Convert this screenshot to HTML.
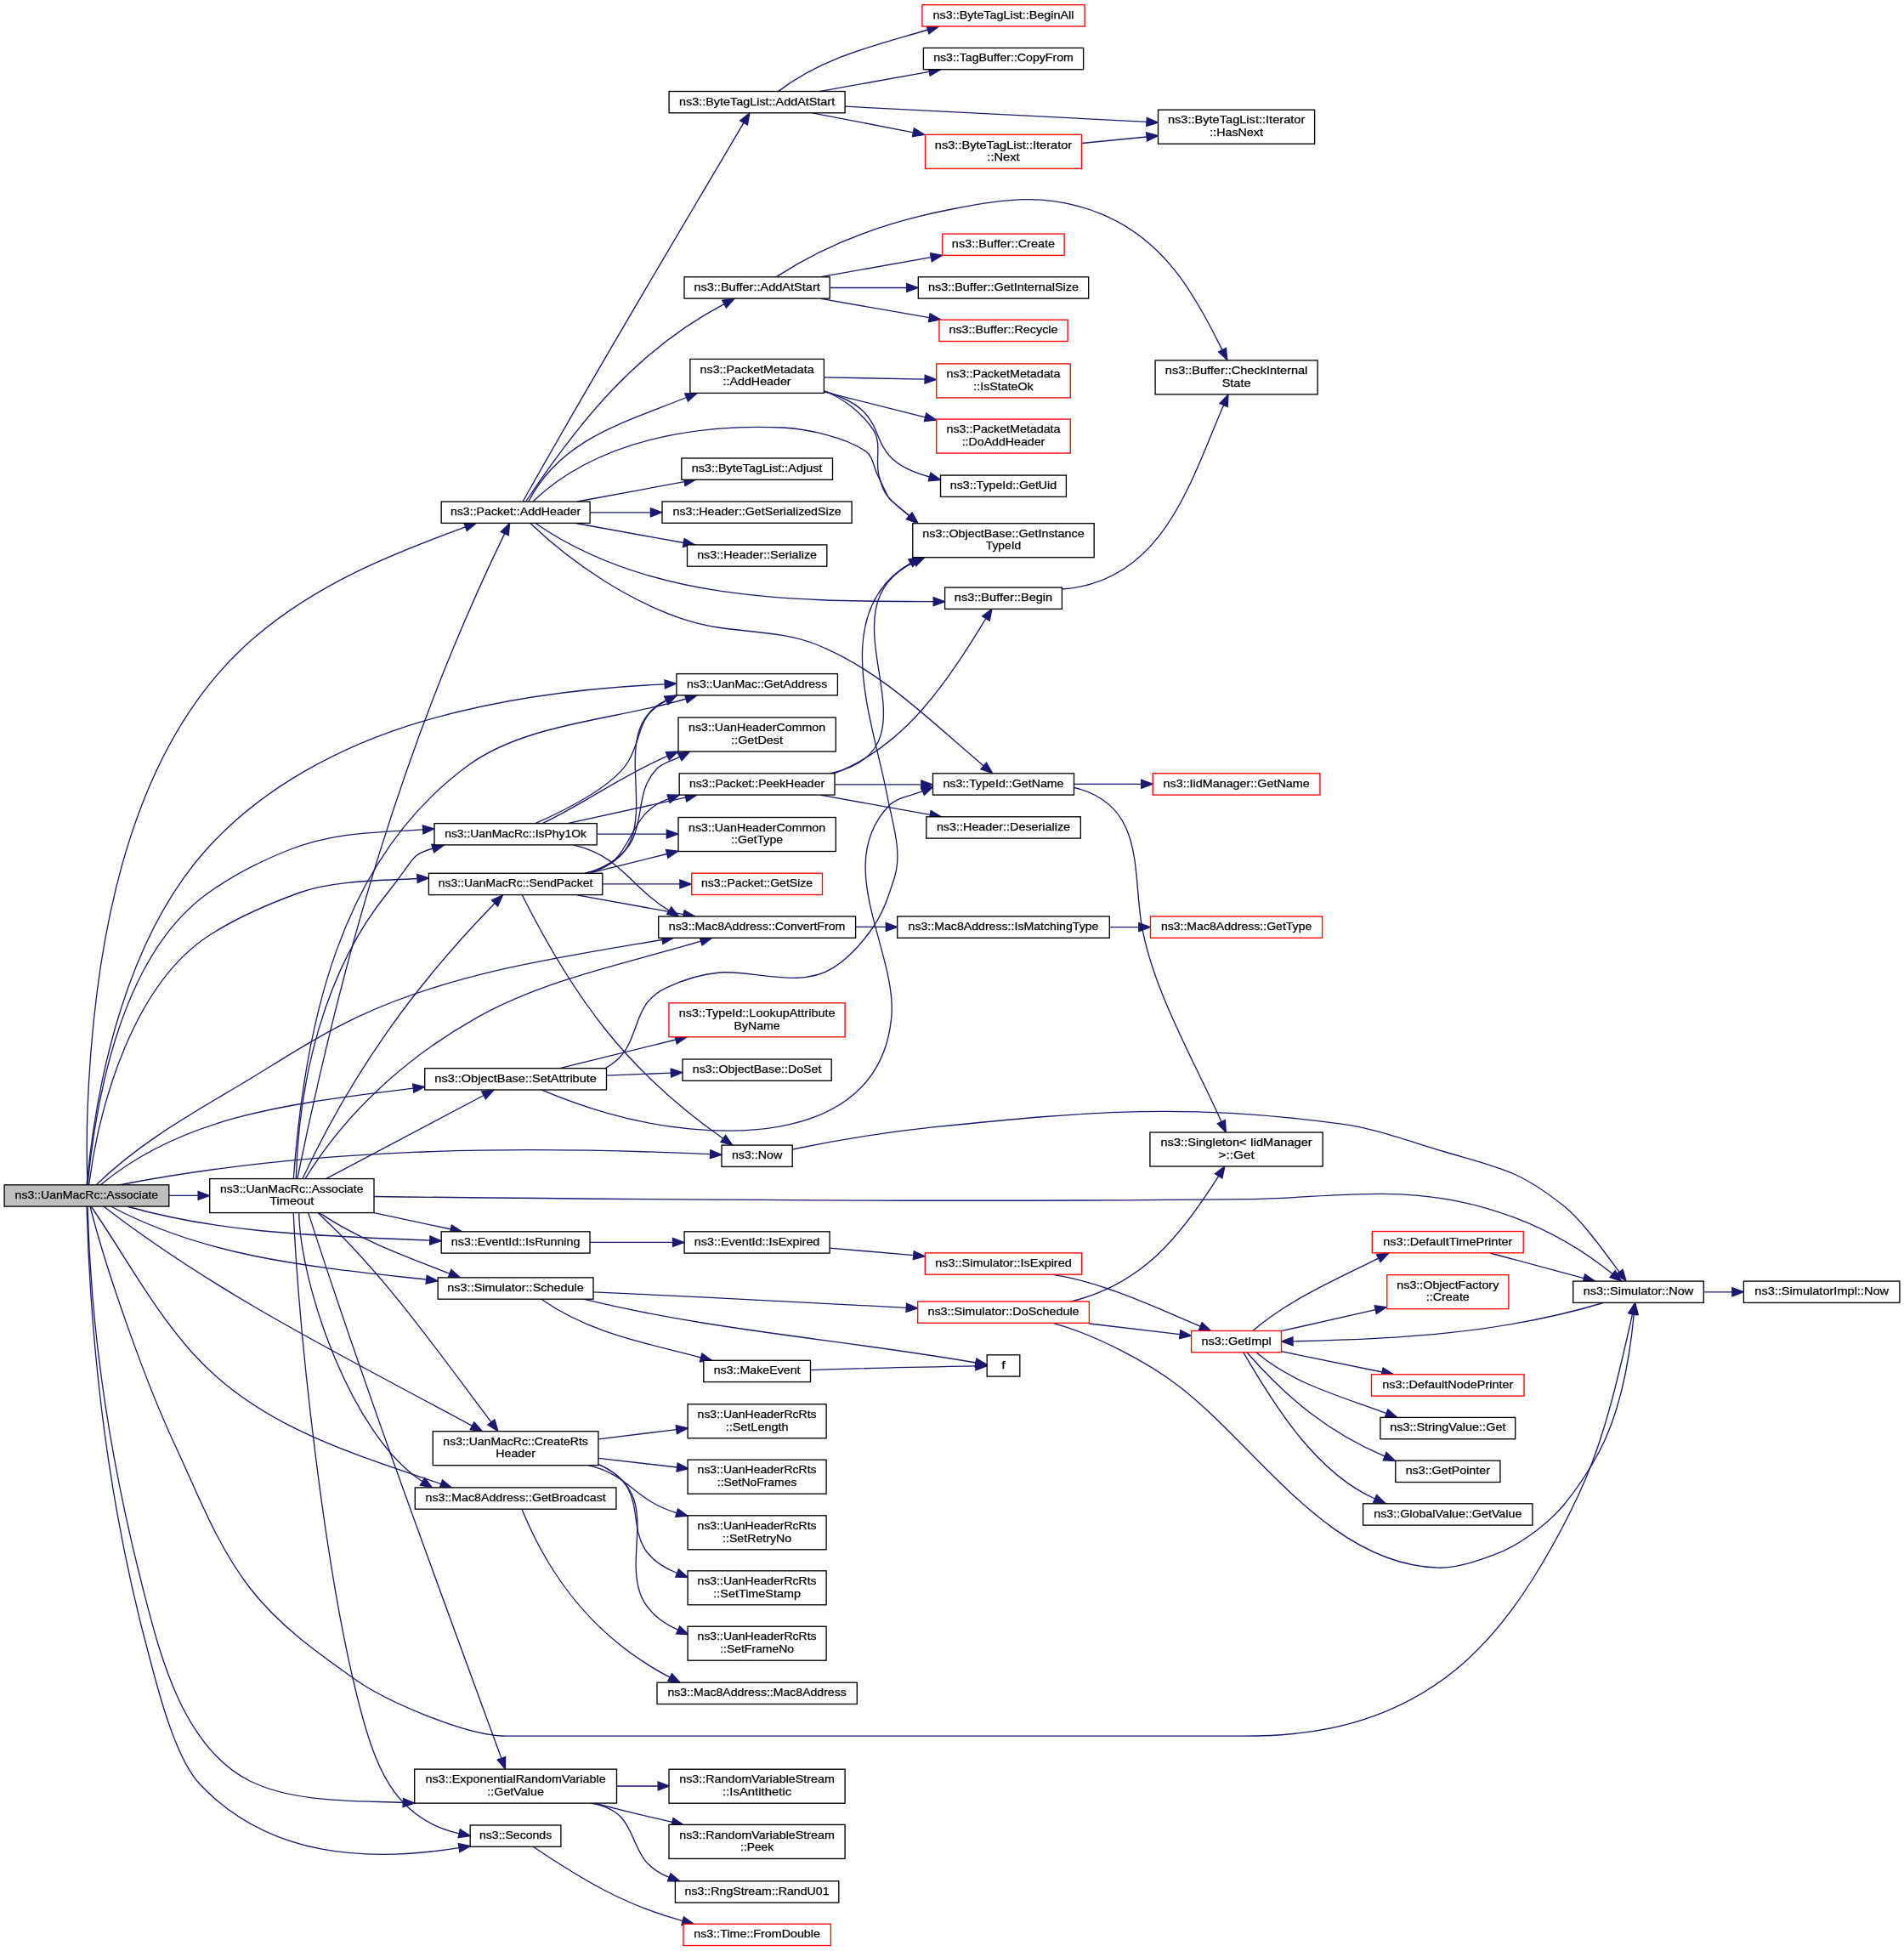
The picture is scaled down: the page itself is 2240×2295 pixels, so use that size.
<!DOCTYPE html>
<html><head><meta charset="utf-8"><style>
html,body{margin:0;padding:0;background:#fff;overflow:hidden;}
svg{display:block;will-change:transform;}
text{font-family:"Liberation Sans",sans-serif;font-size:13.4px;text-anchor:middle;fill:#000;stroke:#000;stroke-width:0.25px;}
.e{fill:none;stroke:#191970;stroke-width:1.33;}
.a{fill:#191970;stroke:#191970;stroke-width:1.33;}
</style></head><body>
<svg width="2240" height="2295" viewBox="0 0 2240 2295">
<rect width="2240" height="2295" fill="#fff"/>
<g>
<path class="e" d="M915.5,107.6 C968.5,66.8 1029.9,53.4 1091.6,35.0"/><path class="a" d="M1093.0,39.8 L1104.5,31.1 L1090.1,30.2 Z"/>
<path class="e" d="M963.8,107.6 L1093.3,84.3"/><path class="a" d="M1094.2,89.2 L1106.6,81.9 L1092.4,79.4 Z"/>
<path class="e" d="M994.1,125.2 L1349.0,143.4"/><path class="a" d="M1348.8,148.4 L1362.5,144.1 L1349.3,138.4 Z"/>
<path class="e" d="M955.4,132.8 L1074.4,155.8"/><path class="a" d="M1073.5,160.7 L1087.7,158.4 L1075.4,150.9 Z"/>
<path class="e" d="M1272.6,168.5 L1349.1,161.0"/><path class="a" d="M1349.6,166.0 L1362.5,159.7 L1348.6,156.0 Z"/>
<path class="e" d="M913.4,325.6 C975.8,284.7 1047.1,259.9 1120.0,246.0 C1183.4,233.9 1232.7,225.9 1296.0,251.9 C1369.7,282.2 1405.1,344.9 1437.9,411.6"/><path class="a" d="M1433.5,413.8 L1443.9,423.7 L1442.4,409.4 Z"/>
<path class="e" d="M965.9,325.6 L1095.4,302.7"/><path class="a" d="M1096.3,307.7 L1108.7,300.4 L1094.5,297.8 Z"/>
<path class="e" d="M976.2,338.5 L1066.7,338.5"/><path class="a" d="M1066.7,343.5 L1080.2,338.5 L1066.7,333.5 Z"/>
<path class="e" d="M965.9,351.3 L1093.3,373.7"/><path class="a" d="M1092.4,378.6 L1106.6,376.0 L1094.2,368.7 Z"/>
<path class="e" d="M1249.5,693.0 C1368.6,684.8 1400.7,565.8 1439.6,476.5"/><path class="a" d="M1444.2,478.5 L1445.0,464.1 L1435.0,474.5 Z"/>
<path class="e" d="M969.2,443.8 L1088.1,446.2"/><path class="a" d="M1088.0,451.2 L1101.6,446.5 L1088.2,441.2 Z"/>
<path class="e" d="M969.2,460.8 L1088.5,490.8"/><path class="a" d="M1087.3,495.7 L1101.6,494.1 L1089.7,486.0 Z"/>
<path class="e" d="M969.2,460.0 C1064.7,488.4 1000.9,535.1 1093.6,561.0"/><path class="a" d="M1092.3,565.8 L1106.6,564.6 L1094.9,556.2 Z"/>
<path class="e" d="M969.2,459.5 C992.3,468.8 1014.1,485.3 1027.7,506.2 C1037.3,520.9 1029.8,541.4 1033.8,558.5 C1040.4,586.9 1049.0,588.7 1069.8,606.8"/><path class="a" d="M1066.5,610.6 L1080.0,615.7 L1073.1,603.1 Z"/>
<path class="e" d="M615.1,590.0 C699.1,439.9 787.7,292.6 875.0,144.4"/><path class="a" d="M879.4,147.0 L881.9,132.8 L870.7,141.9 Z"/>
<path class="e" d="M618.5,590.0 C682.4,494.6 749.4,411.5 852.0,357.6"/><path class="a" d="M854.4,362.0 L864.0,351.3 L849.7,353.2 Z"/>
<path class="e" d="M621.8,590.0 C660.4,515.0 737.9,496.0 807.6,467.5"/><path class="a" d="M809.5,472.1 L820.1,462.4 L805.7,462.9 Z"/>
<path class="e" d="M626.9,590.0 C703.0,517.3 819.0,498.7 920.0,503.0 C949.9,504.3 995.2,514.7 1018.5,530.8 C1027.0,536.7 1027.7,549.3 1032.3,558.5 C1050.7,595.4 1038.3,579.3 1069.8,606.8"/><path class="a" d="M1066.5,610.6 L1080.0,615.7 L1073.1,603.1 Z"/>
<path class="e" d="M679.0,590.0 L805.2,566.7"/><path class="a" d="M806.1,571.6 L818.5,564.2 L804.3,561.7 Z"/>
<path class="e" d="M694.0,602.8 L765.4,602.8"/><path class="a" d="M765.4,607.8 L778.9,602.8 L765.4,597.8 Z"/>
<path class="e" d="M677.3,615.5 L804.3,638.5"/><path class="a" d="M803.4,643.4 L817.6,640.9 L805.2,633.6 Z"/>
<path class="e" d="M630.0,615.5 C765.4,709.2 940.0,707.0 1098.2,707.6"/><path class="a" d="M1098.2,712.6 L1111.7,707.7 L1098.2,702.6 Z"/>
<path class="e" d="M623.8,615.5 C675.1,664.2 741.5,708.6 809.7,730.2 C858.3,745.6 912.6,739.2 960.0,758.0 C1037.2,788.7 1094.8,848.7 1157.2,900.9"/><path class="a" d="M1154.0,904.8 L1167.6,909.6 L1160.5,897.1 Z"/>
<path class="e" d="M198.7,1406.4 L233.1,1406.4"/><path class="a" d="M233.1,1411.4 L246.6,1406.4 L233.1,1401.4 Z"/>
<path class="e" d="M103.0,1394.0 C101.8,1362.7 101.9,1331.3 103.2,1300.0 C110.9,1113.3 148.8,878.6 299.2,750.0 C372.8,687.0 457.9,652.7 547.6,619.9"/><path class="a" d="M549.3,624.6 L560.3,615.3 L545.9,615.2 Z"/>
<path class="e" d="M102.0,1394.0 C114.3,1262.8 151.0,1102.0 242.2,1000.0 C308.4,926.0 401.6,876.9 495.9,848.9 C589.1,821.2 685.4,809.3 782.2,804.8"/><path class="a" d="M782.4,809.8 L795.7,804.2 L782.0,799.8 Z"/>
<path class="e" d="M103.0,1394.0 C113.8,1283.3 145.7,1120.7 245.5,1050.0 C274.4,1029.5 306.4,1013.0 339.3,1000.0 C393.6,978.5 440.9,979.6 497.6,975.8"/><path class="a" d="M498.0,980.8 L511.1,974.9 L497.3,970.8 Z"/>
<path class="e" d="M104.6,1394.0 C116.9,1297.6 157.7,1157.2 246.6,1100.0 C279.4,1078.9 315.8,1063.3 352.5,1050.0 C392.2,1035.6 449.9,1035.7 490.9,1033.5"/><path class="a" d="M491.2,1038.5 L504.4,1032.8 L490.7,1028.5 Z"/>
<path class="e" d="M113.0,1394.0 C164.1,1344.2 222.3,1312.1 283.8,1275.3 C328.8,1248.4 372.6,1219.0 420.0,1196.6 C530.9,1144.2 659.1,1125.8 779.1,1105.5"/><path class="a" d="M779.9,1110.5 L792.4,1103.3 L778.3,1100.6 Z"/>
<path class="e" d="M118.0,1394.0 C221.3,1307.7 359.0,1296.8 486.2,1280.1"/><path class="a" d="M486.9,1285.1 L499.6,1278.4 L485.6,1275.2 Z"/>
<path class="e" d="M140.0,1394.0 C366.7,1349.8 605.5,1347.4 835.6,1357.7"/><path class="a" d="M835.4,1362.7 L849.1,1358.3 L835.8,1352.7 Z"/>
<path class="e" d="M149.2,1419.0 C265.3,1452.2 386.3,1453.8 505.8,1459.1"/><path class="a" d="M505.6,1464.1 L519.3,1459.7 L506.0,1454.1 Z"/>
<path class="e" d="M130.3,1419.0 C245.6,1480.7 374.9,1490.9 501.7,1505.2"/><path class="a" d="M501.1,1510.2 L515.1,1506.7 L502.2,1500.2 Z"/>
<path class="e" d="M121.8,1419.0 C256.2,1522.8 407.1,1596.9 555.5,1677.3"/><path class="a" d="M553.1,1681.7 L567.4,1683.7 L557.9,1672.9 Z"/>
<path class="e" d="M107.1,1419.0 C146.9,1476.7 180.0,1539.9 226.9,1592.0 C304.4,1678.1 413.4,1709.1 518.8,1745.6"/><path class="a" d="M517.2,1750.3 L531.6,1750.0 L520.5,1740.9 Z"/>
<path class="e" d="M103.0,1419.0 C106.8,1568.1 131.0,1723.8 168.0,1868.0 C187.4,1943.4 214.1,2055.0 294.0,2095.0 C345.6,2120.8 420.0,2118.0 474.3,2120.5"/><path class="a" d="M474.1,2125.5 L487.8,2121.1 L474.5,2115.5 Z"/>
<path class="e" d="M102.0,1419.0 C107.0,1597.9 129.3,1779.1 176.5,1952.0 C184.0,1979.5 204.8,2066.9 235.3,2099.0 C316.6,2184.6 431.4,2190.9 540.1,2173.6"/><path class="a" d="M540.9,2178.6 L553.4,2171.5 L539.3,2168.7 Z"/>
<path class="e" d="M349.7,1387.0 C403.4,1123.6 475.9,870.4 593.7,627.6"/><path class="a" d="M598.2,629.8 L599.6,615.5 L589.2,625.5 Z"/>
<path class="e" d="M345.3,1387.0 C358.0,1209.0 398.5,1011.0 551.3,900.0 C620.3,849.9 726.6,846.6 807.0,822.0"/><path class="a" d="M808.5,826.7 L819.9,818.0 L805.5,817.2 Z"/>
<path class="e" d="M348.3,1387.0 C351.3,1270.9 381.5,1141.7 456.2,1050.0 C489.4,1009.2 481.5,1006.2 509.2,998.0"/><path class="a" d="M510.7,1002.8 L522.2,994.2 L507.8,993.2 Z"/>
<path class="e" d="M355.7,1387.0 C413.3,1263.2 487.1,1159.9 582.1,1062.5"/><path class="a" d="M585.7,1066.0 L591.5,1052.8 L578.5,1059.0 Z"/>
<path class="e" d="M358.7,1387.0 C408.1,1306.6 479.7,1242.6 561.8,1196.6 C641.5,1151.9 738.1,1132.9 824.7,1107.2"/><path class="a" d="M826.1,1111.9 L837.6,1103.3 L823.2,1102.4 Z"/>
<path class="e" d="M383.5,1386.6 L569.1,1288.5"/><path class="a" d="M571.4,1292.9 L581.0,1282.2 L566.7,1284.1 Z"/>
<path class="e" d="M440.0,1426.6 L530.4,1446.0"/><path class="a" d="M529.4,1450.9 L543.6,1448.8 L531.4,1441.1 Z"/>
<path class="e" d="M375.7,1426.6 C422.9,1458.4 476.4,1477.8 529.1,1498.1"/><path class="a" d="M527.3,1502.8 L541.7,1503.0 L530.9,1493.5 Z"/>
<path class="e" d="M373.8,1426.6 C452.9,1499.9 513.4,1587.5 577.9,1672.9"/><path class="a" d="M573.9,1675.9 L586.0,1683.7 L581.9,1669.9 Z"/>
<path class="e" d="M351.7,1426.6 C353.3,1512.2 413.5,1689.3 497.1,1742.7"/><path class="a" d="M494.4,1747.0 L508.5,1750.0 L499.8,1738.5 Z"/>
<path class="e" d="M362.7,1426.6 C432.4,1642.7 512.0,1855.2 589.9,2068.4"/><path class="a" d="M585.2,2070.1 L594.5,2081.1 L594.6,2066.7 Z"/>
<path class="e" d="M345.2,1426.6 C352.7,1583.8 382.5,1844.8 420.0,1995.0 C440.2,2075.8 462.1,2139.3 540.2,2156.8"/><path class="a" d="M539.1,2161.6 L553.4,2159.7 L541.3,2151.9 Z"/>
<path class="e" d="M630.4,968.4 C651.6,958.8 720.3,928.6 739.5,895.0 C757.1,864.2 748.2,842.4 784.1,824.1"/><path class="a" d="M786.3,828.6 L796.1,818.0 L781.8,819.7 Z"/>
<path class="e" d="M638.6,968.4 C689.7,943.9 733.3,911.4 785.3,889.3"/><path class="a" d="M787.2,893.9 L797.7,884.0 L783.3,884.7 Z"/>
<path class="e" d="M668.9,968.4 L806.7,938.1"/><path class="a" d="M807.8,943.0 L819.9,935.2 L805.6,933.2 Z"/>
<path class="e" d="M702.3,981.1 L784.3,981.1"/><path class="a" d="M784.3,986.1 L797.8,981.1 L784.3,976.1 Z"/>
<path class="e" d="M675.5,994.2 C731.8,1007.8 742.3,1044.4 787.1,1071.1"/><path class="a" d="M784.5,1075.4 L798.7,1078.0 L789.7,1066.8 Z"/>
<path class="e" d="M688.6,1027.2 C806.3,1001.8 698.5,863.7 783.9,823.7"/><path class="a" d="M786.0,828.3 L796.1,818.0 L781.8,819.2 Z"/>
<path class="e" d="M688.6,1027.2 C709.3,1022.2 735.0,1007.9 744.4,986.9 C757.6,957.3 749.2,929.8 772.3,904.8 C779.3,897.2 790.5,895.1 799.7,890.3"/><path class="a" d="M802.0,894.7 L811.6,884.0 L797.3,885.9 Z"/>
<path class="e" d="M688.6,1027.2 C750.7,1017.5 731.0,959.4 786.6,939.7"/><path class="a" d="M788.2,944.4 L799.3,935.2 L784.9,935.0 Z"/>
<path class="e" d="M693.5,1027.2 L784.7,1004.5"/><path class="a" d="M785.9,1009.3 L797.8,1001.2 L783.5,999.6 Z"/>
<path class="e" d="M708.8,1039.9 L799.9,1039.9"/><path class="a" d="M799.9,1044.9 L813.4,1039.9 L799.9,1034.9 Z"/>
<path class="e" d="M678.8,1052.8 L804.3,1075.6"/><path class="a" d="M803.4,1080.5 L817.6,1078.0 L805.2,1070.7 Z"/>
<path class="e" d="M614.2,1052.8 C675.8,1175.3 738.4,1260.6 850.7,1339.3"/><path class="a" d="M847.9,1343.4 L861.8,1347.1 L853.6,1335.3 Z"/>
<path class="e" d="M659.5,1256.4 L795.1,1223.0"/><path class="a" d="M796.3,1227.9 L808.2,1219.8 L793.9,1218.2 Z"/>
<path class="e" d="M713.4,1265.2 L789.4,1262.1"/><path class="a" d="M789.6,1267.1 L802.9,1261.6 L789.2,1257.1 Z"/>
<path class="e" d="M712.6,1256.4 C758.4,1231.8 736.7,1183.8 784.0,1161.8 C803.8,1152.6 825.3,1145.7 847.1,1144.0 C886.0,1141.0 940.7,1163.2 980.0,1138.6 C999.2,1126.6 1014.8,1108.7 1027.6,1090.0 C1039.3,1072.9 1045.9,1052.6 1052.2,1032.8 C1062.1,1001.7 1049.6,967.3 1043.6,935.2 C1027.8,850.2 973.8,718.7 1071.3,662.3"/><path class="a" d="M1073.8,666.7 L1083.0,655.6 L1068.8,658.0 Z"/>
<path class="e" d="M637.4,1282.2 C662.7,1292.9 688.7,1302.1 715.1,1309.7 C825.4,1341.3 1032.8,1356.4 1048.7,1197.6 C1056.4,1120.4 978.1,1017.8 1046.1,947.5 C1056.0,937.3 1072.3,936.3 1085.4,930.7"/><path class="a" d="M1087.4,935.3 L1097.8,925.4 L1083.4,926.1 Z"/>
<path class="e" d="M977.2,909.6 C1119.3,879.9 956.1,717.2 1075.7,661.3"/><path class="a" d="M1077.8,665.8 L1087.9,655.6 L1073.6,656.8 Z"/>
<path class="e" d="M982.1,909.6 C1066.9,876.3 1114.9,800.8 1159.9,727.6"/><path class="a" d="M1164.2,730.2 L1167.0,716.1 L1155.7,725.0 Z"/>
<path class="e" d="M981.8,922.9 L1083.9,922.9"/><path class="a" d="M1083.9,927.9 L1097.4,922.9 L1083.9,917.9 Z"/>
<path class="e" d="M964.9,935.2 L1094.3,958.4"/><path class="a" d="M1093.4,963.3 L1107.6,960.8 L1095.2,953.5 Z"/>
<path class="e" d="M1006.6,1090.4 L1042.3,1090.4"/><path class="a" d="M1042.3,1095.4 L1055.8,1090.4 L1042.3,1085.4 Z"/>
<path class="e" d="M932.3,1352.0 C987.7,1340.4 1043.7,1331.6 1100.0,1325.7 C1280.4,1306.9 1402.7,1297.6 1580.0,1322.4 C1621.0,1328.2 1660.2,1343.5 1700.0,1355.0 C1765.9,1374.1 1788.6,1377.1 1841.5,1420.0 C1862.3,1436.9 1888.6,1474.3 1905.1,1496.3"/><path class="a" d="M1901.1,1499.3 L1913.2,1507.1 L1909.1,1493.3 Z"/>
<path class="e" d="M439.9,1407.5 C783.0,1411.6 1126.5,1414.4 1469.6,1410.6 C1529.3,1409.9 1589.0,1401.9 1648.6,1404.8 C1740.4,1409.2 1826.6,1441.5 1897.1,1498.6"/><path class="a" d="M1894.0,1502.5 L1907.6,1507.1 L1900.3,1494.7 Z"/>
<path class="e" d="M1238.9,1556.3 C1287.5,1569.8 1349.2,1601.5 1387.7,1631.2 C1479.2,1701.9 1563.0,1840.5 1692.0,1844.2 C1714.3,1844.8 1736.1,1836.5 1757.1,1829.1 C1772.4,1823.7 1786.8,1815.4 1800.0,1806.0 C1814.6,1795.6 1828.6,1783.8 1840.0,1770.0 C1856.1,1750.4 1870.2,1729.0 1882.0,1706.5 C1907.4,1658.1 1917.2,1599.4 1922.3,1545.9"/><path class="a" d="M1927.3,1546.4 L1923.6,1532.5 L1917.3,1545.5 Z"/>
<path class="e" d="M1886.3,1532.5 C1767.3,1568.3 1644.6,1575.5 1521.0,1577.8"/><path class="a" d="M1520.9,1572.8 L1507.5,1578.0 L1521.1,1582.7 Z"/>
<path class="e" d="M1473.7,1565.5 C1518.0,1527.9 1570.5,1505.8 1621.7,1480.1"/><path class="a" d="M1624.0,1484.5 L1633.8,1474.0 L1619.5,1475.6 Z"/>
<path class="e" d="M1507.5,1565.7 L1618.3,1540.6"/><path class="a" d="M1619.4,1545.5 L1631.5,1537.6 L1617.2,1535.7 Z"/>
<path class="e" d="M1507.5,1589.7 L1626.1,1614.0"/><path class="a" d="M1625.1,1618.9 L1639.3,1616.7 L1627.1,1609.1 Z"/>
<path class="e" d="M1477.8,1590.8 C1523.0,1628.8 1578.0,1642.6 1631.1,1662.6"/><path class="a" d="M1629.3,1667.3 L1643.7,1667.4 L1632.8,1657.9 Z"/>
<path class="e" d="M1466.9,1590.8 C1514.1,1644.9 1563.2,1685.3 1629.2,1713.1"/><path class="a" d="M1627.2,1717.8 L1641.6,1718.4 L1631.1,1708.5 Z"/>
<path class="e" d="M1462.8,1590.8 C1499.3,1653.3 1548.6,1732.8 1617.6,1763.0"/><path class="a" d="M1615.6,1767.6 L1630.0,1768.4 L1619.6,1758.4 Z"/>
<path class="e" d="M1753.2,1474.0 L1863.4,1503.6"/><path class="a" d="M1862.1,1508.4 L1876.4,1507.1 L1864.7,1498.8 Z"/>
<path class="e" d="M2004.3,1519.8 L2037.9,1519.8"/><path class="a" d="M2037.9,1524.8 L2051.4,1519.8 L2037.9,1514.8 Z"/>
<path class="e" d="M1259.3,1531.1 C1344.3,1510.9 1389.2,1453.6 1433.7,1383.3"/><path class="a" d="M1437.9,1386.0 L1440.9,1371.9 L1429.5,1380.6 Z"/>
<path class="e" d="M1237.5,1499.2 C1299.0,1508.6 1355.4,1536.3 1412.2,1560.2"/><path class="a" d="M1410.2,1564.9 L1424.6,1565.5 L1414.1,1555.6 Z"/>
<path class="e" d="M1281.4,1557.0 L1388.2,1569.6"/><path class="a" d="M1387.6,1574.6 L1401.6,1571.2 L1388.8,1564.7 Z"/>
<path class="e" d="M1263.4,926.4 C1346.0,946.2 1332.7,1021.7 1342.6,1084.8 C1354.8,1162.8 1406.1,1249.7 1436.9,1319.6"/><path class="a" d="M1432.3,1321.7 L1442.3,1332.0 L1441.4,1317.6 Z"/>
<path class="e" d="M1263.4,922.3 L1342.7,922.3"/><path class="a" d="M1342.7,927.3 L1356.2,922.3 L1342.7,917.3 Z"/>
<path class="e" d="M1305.4,1090.6 L1339.8,1090.6"/><path class="a" d="M1339.8,1095.6 L1353.3,1090.6 L1339.8,1085.6 Z"/>
<path class="e" d="M697.9,1519.8 C820.7,1525.2 943.5,1531.9 1066.2,1538.3"/><path class="a" d="M1066.0,1543.3 L1079.7,1539.0 L1066.5,1533.3 Z"/>
<path class="e" d="M686.7,1528.2 C838.6,1565.5 994.3,1576.1 1148.0,1603.0"/><path class="a" d="M1147.1,1607.9 L1161.3,1605.3 L1148.9,1598.1 Z"/>
<path class="e" d="M636.8,1528.2 C694.0,1568.3 759.3,1579.7 824.6,1597.0"/><path class="a" d="M823.4,1601.8 L837.7,1600.4 L825.9,1592.1 Z"/>
<path class="e" d="M953.3,1611.7 C1018.1,1609.2 1083.0,1608.1 1147.8,1606.9"/><path class="a" d="M1147.9,1611.9 L1161.3,1606.7 L1147.7,1601.9 Z"/>
<path class="e" d="M694.1,1461.4 L791.5,1461.4"/><path class="a" d="M791.5,1466.4 L805.0,1461.4 L791.5,1456.4 Z"/>
<path class="e" d="M976.0,1468.1 L1074.8,1476.6"/><path class="a" d="M1074.3,1481.6 L1088.2,1477.8 L1075.2,1471.7 Z"/>
<path class="e" d="M704.2,1692.8 L795.8,1681.6"/><path class="a" d="M796.4,1686.6 L809.2,1680.0 L795.2,1676.7 Z"/>
<path class="e" d="M704.2,1715.3 L796.6,1726.0"/><path class="a" d="M796.0,1731.0 L810.0,1727.6 L797.2,1721.1 Z"/>
<path class="e" d="M691.9,1723.6 C741.2,1734.6 746.1,1765.3 796.2,1779.6"/><path class="a" d="M794.8,1784.4 L809.2,1783.3 L797.6,1774.8 Z"/>
<path class="e" d="M704.2,1722.7 C780.7,1755.7 713.9,1817.5 796.7,1850.5"/><path class="a" d="M794.8,1855.1 L809.2,1855.5 L798.5,1845.9 Z"/>
<path class="e" d="M705.0,1723.0 C803.1,1766.3 693.1,1871.0 797.7,1917.3"/><path class="a" d="M795.6,1921.9 L810.0,1922.8 L799.7,1912.8 Z"/>
<path class="e" d="M613.9,1775.2 C649.8,1863.0 705.0,1929.7 788.1,1973.1"/><path class="a" d="M785.8,1977.6 L800.1,1979.4 L790.5,1968.7 Z"/>
<path class="e" d="M725.6,2101.0 L774.1,2101.0"/><path class="a" d="M774.1,2106.0 L787.6,2101.0 L774.1,2096.0 Z"/>
<path class="e" d="M700.2,2121.1 C730.2,2129.5 760.6,2136.3 790.9,2143.5"/><path class="a" d="M789.7,2148.4 L804.0,2146.6 L792.0,2138.6 Z"/>
<path class="e" d="M694.7,2121.1 C761.5,2131.7 729.4,2186.6 787.3,2208.3"/><path class="a" d="M785.5,2212.9 L799.9,2213.0 L789.0,2203.6 Z"/>
<path class="e" d="M627.1,2172.3 C687.4,2212.6 734.4,2240.7 803.2,2259.7"/><path class="a" d="M801.9,2264.5 L816.2,2263.3 L804.5,2254.9 Z"/>
<path class="e" d="M106.0,1419.0 C125.5,1497.0 172.0,1627.6 205.9,1700.0 C232.7,1757.3 255.3,1818.0 294.0,1868.0 C328.0,1911.9 374.4,1945.3 420.0,1977.0 C453.3,2000.1 547.2,2042.2 596.0,2042.2 L1462.7,2042.2 C1514.9,2042.2 1568.7,2036.6 1617.6,2018.2 C1703.0,1986.2 1757.5,1930.5 1803.5,1857.0 C1827.0,1819.4 1848.0,1780.1 1865.5,1739.4 C1890.9,1680.0 1906.1,1609.0 1920.6,1545.7"/><path class="a" d="M1925.5,1546.8 L1923.6,1532.5 L1915.7,1544.5 Z"/>
</g>
<g class="t">
<rect x="5.1" y="1393.8" width="193.7" height="25.3" fill="#bfbfbf" stroke="#000000" stroke-width="1.33"/>
<text x="101.9" y="1409.7" textLength="168.6" lengthAdjust="spacingAndGlyphs">ns3::UanMacRc::Associate</text>
<rect x="246.7" y="1386.6" width="193.3" height="40.0" fill="#ffffff" stroke="#000000" stroke-width="1.33"/>
<text x="343.3" y="1402.7" textLength="168.6" lengthAdjust="spacingAndGlyphs">ns3::UanMacRc::Associate</text>
<text x="343.3" y="1417.3" textLength="52.3" lengthAdjust="spacingAndGlyphs">Timeout</text>
<rect x="519.2" y="590.1" width="174.9" height="25.3" fill="#ffffff" stroke="#000000" stroke-width="1.33"/>
<text x="606.6" y="606.0" textLength="153.4" lengthAdjust="spacingAndGlyphs">ns3::Packet::AddHeader</text>
<rect x="511.0" y="968.6" width="191.2" height="25.3" fill="#ffffff" stroke="#000000" stroke-width="1.33"/>
<text x="606.6" y="984.6" textLength="166.8" lengthAdjust="spacingAndGlyphs">ns3::UanMacRc::IsPhy1Ok</text>
<rect x="504.4" y="1027.3" width="204.4" height="25.3" fill="#ffffff" stroke="#000000" stroke-width="1.33"/>
<text x="606.6" y="1043.3" textLength="181.5" lengthAdjust="spacingAndGlyphs">ns3::UanMacRc::SendPacket</text>
<rect x="499.7" y="1256.7" width="213.8" height="25.3" fill="#ffffff" stroke="#000000" stroke-width="1.33"/>
<text x="606.6" y="1272.6" textLength="190.6" lengthAdjust="spacingAndGlyphs">ns3::ObjectBase::SetAttribute</text>
<rect x="519.2" y="1448.8" width="174.8" height="25.3" fill="#ffffff" stroke="#000000" stroke-width="1.33"/>
<text x="606.6" y="1464.7" textLength="151.6" lengthAdjust="spacingAndGlyphs">ns3::EventId::IsRunning</text>
<rect x="515.2" y="1502.9" width="182.8" height="25.3" fill="#ffffff" stroke="#000000" stroke-width="1.33"/>
<text x="606.6" y="1518.9" textLength="160.5" lengthAdjust="spacingAndGlyphs">ns3::Simulator::Schedule</text>
<rect x="509.3" y="1683.7" width="194.6" height="40.0" fill="#ffffff" stroke="#000000" stroke-width="1.33"/>
<text x="606.6" y="1699.8" textLength="170.5" lengthAdjust="spacingAndGlyphs">ns3::UanMacRc::CreateRts</text>
<text x="606.6" y="1714.4" textLength="46.6" lengthAdjust="spacingAndGlyphs">Header</text>
<rect x="488.3" y="1749.9" width="236.6" height="25.3" fill="#ffffff" stroke="#000000" stroke-width="1.33"/>
<text x="606.6" y="1765.9" textLength="212.2" lengthAdjust="spacingAndGlyphs">ns3::Mac8Address::GetBroadcast</text>
<rect x="487.7" y="2081.1" width="237.8" height="40.0" fill="#ffffff" stroke="#000000" stroke-width="1.33"/>
<text x="606.6" y="2097.2" textLength="212.1" lengthAdjust="spacingAndGlyphs">ns3::ExponentialRandomVariable</text>
<text x="606.6" y="2111.8" textLength="66.6" lengthAdjust="spacingAndGlyphs">::GetValue</text>
<rect x="553.2" y="2147.0" width="106.7" height="25.3" fill="#ffffff" stroke="#000000" stroke-width="1.33"/>
<text x="606.6" y="2163.0" textLength="85.3" lengthAdjust="spacingAndGlyphs">ns3::Seconds</text>
<rect x="787.1" y="107.5" width="207.0" height="25.3" fill="#ffffff" stroke="#000000" stroke-width="1.33"/>
<text x="890.6" y="123.5" textLength="183.1" lengthAdjust="spacingAndGlyphs">ns3::ByteTagList::AddAtStart</text>
<rect x="805.0" y="325.8" width="171.2" height="25.3" fill="#ffffff" stroke="#000000" stroke-width="1.33"/>
<text x="890.6" y="341.8" textLength="148.4" lengthAdjust="spacingAndGlyphs">ns3::Buffer::AddAtStart</text>
<rect x="811.9" y="422.4" width="157.5" height="40.0" fill="#ffffff" stroke="#000000" stroke-width="1.33"/>
<text x="890.6" y="438.5" textLength="134.0" lengthAdjust="spacingAndGlyphs">ns3::PacketMetadata</text>
<text x="890.6" y="453.1" textLength="80.0" lengthAdjust="spacingAndGlyphs">::AddHeader</text>
<rect x="801.8" y="539.0" width="177.7" height="25.3" fill="#ffffff" stroke="#000000" stroke-width="1.33"/>
<text x="890.6" y="554.9" textLength="153.5" lengthAdjust="spacingAndGlyphs">ns3::ByteTagList::Adjust</text>
<rect x="779.0" y="590.0" width="223.1" height="25.3" fill="#ffffff" stroke="#000000" stroke-width="1.33"/>
<text x="890.6" y="605.9" textLength="198.1" lengthAdjust="spacingAndGlyphs">ns3::Header::GetSerializedSize</text>
<rect x="808.5" y="640.9" width="164.3" height="25.3" fill="#ffffff" stroke="#000000" stroke-width="1.33"/>
<text x="890.6" y="656.8" textLength="140.9" lengthAdjust="spacingAndGlyphs">ns3::Header::Serialize</text>
<rect x="795.9" y="792.6" width="189.5" height="25.3" fill="#ffffff" stroke="#000000" stroke-width="1.33"/>
<text x="890.6" y="808.5" textLength="165.2" lengthAdjust="spacingAndGlyphs">ns3::UanMac::GetAddress</text>
<rect x="798.0" y="844.0" width="185.3" height="40.0" fill="#ffffff" stroke="#000000" stroke-width="1.33"/>
<text x="890.6" y="860.1" textLength="161.1" lengthAdjust="spacingAndGlyphs">ns3::UanHeaderCommon</text>
<text x="890.6" y="874.7" textLength="60.9" lengthAdjust="spacingAndGlyphs">::GetDest</text>
<rect x="799.2" y="909.8" width="182.8" height="25.3" fill="#ffffff" stroke="#000000" stroke-width="1.33"/>
<text x="890.6" y="925.7" textLength="159.1" lengthAdjust="spacingAndGlyphs">ns3::Packet::PeekHeader</text>
<rect x="798.0" y="961.5" width="185.3" height="40.0" fill="#ffffff" stroke="#000000" stroke-width="1.33"/>
<text x="890.6" y="977.6" textLength="161.1" lengthAdjust="spacingAndGlyphs">ns3::UanHeaderCommon</text>
<text x="890.6" y="992.2" textLength="60.8" lengthAdjust="spacingAndGlyphs">::GetType</text>
<rect x="813.8" y="1027.2" width="153.7" height="25.3" fill="#ffffff" stroke="#ff0000" stroke-width="1.33"/>
<text x="890.6" y="1043.1" textLength="131.1" lengthAdjust="spacingAndGlyphs">ns3::Packet::GetSize</text>
<rect x="774.7" y="1078.0" width="231.9" height="25.3" fill="#ffffff" stroke="#000000" stroke-width="1.33"/>
<text x="890.6" y="1094.0" textLength="207.5" lengthAdjust="spacingAndGlyphs">ns3::Mac8Address::ConvertFrom</text>
<rect x="787.0" y="1179.8" width="207.1" height="40.0" fill="#ffffff" stroke="#ff0000" stroke-width="1.33"/>
<text x="890.6" y="1195.9" textLength="183.8" lengthAdjust="spacingAndGlyphs">ns3::TypeId::LookupAttribute</text>
<text x="890.6" y="1210.5" textLength="54.1" lengthAdjust="spacingAndGlyphs">ByName</text>
<rect x="803.0" y="1246.0" width="175.2" height="25.3" fill="#ffffff" stroke="#000000" stroke-width="1.33"/>
<text x="890.6" y="1262.0" textLength="151.7" lengthAdjust="spacingAndGlyphs">ns3::ObjectBase::DoSet</text>
<rect x="849.0" y="1347.1" width="83.2" height="25.3" fill="#ffffff" stroke="#000000" stroke-width="1.33"/>
<text x="890.6" y="1363.0" textLength="59.4" lengthAdjust="spacingAndGlyphs">ns3::Now</text>
<rect x="805.1" y="1448.8" width="171.0" height="25.3" fill="#ffffff" stroke="#000000" stroke-width="1.33"/>
<text x="890.6" y="1464.7" textLength="147.5" lengthAdjust="spacingAndGlyphs">ns3::EventId::IsExpired</text>
<rect x="827.8" y="1600.3" width="125.7" height="25.3" fill="#ffffff" stroke="#000000" stroke-width="1.33"/>
<text x="890.6" y="1616.3" textLength="101.9" lengthAdjust="spacingAndGlyphs">ns3::MakeEvent</text>
<rect x="809.1" y="1651.8" width="163.0" height="40.0" fill="#ffffff" stroke="#000000" stroke-width="1.33"/>
<text x="890.6" y="1667.9" textLength="140.0" lengthAdjust="spacingAndGlyphs">ns3::UanHeaderRcRts</text>
<text x="890.6" y="1682.5" textLength="73.8" lengthAdjust="spacingAndGlyphs">::SetLength</text>
<rect x="809.1" y="1717.2" width="163.0" height="40.0" fill="#ffffff" stroke="#000000" stroke-width="1.33"/>
<text x="890.6" y="1733.2" textLength="140.0" lengthAdjust="spacingAndGlyphs">ns3::UanHeaderRcRts</text>
<text x="890.6" y="1747.9" textLength="93.6" lengthAdjust="spacingAndGlyphs">::SetNoFrames</text>
<rect x="809.1" y="1782.8" width="163.0" height="40.0" fill="#ffffff" stroke="#000000" stroke-width="1.33"/>
<text x="890.6" y="1798.8" textLength="140.0" lengthAdjust="spacingAndGlyphs">ns3::UanHeaderRcRts</text>
<text x="890.6" y="1813.5" textLength="81.1" lengthAdjust="spacingAndGlyphs">::SetRetryNo</text>
<rect x="809.1" y="1847.8" width="163.0" height="40.0" fill="#ffffff" stroke="#000000" stroke-width="1.33"/>
<text x="890.6" y="1863.9" textLength="140.0" lengthAdjust="spacingAndGlyphs">ns3::UanHeaderRcRts</text>
<text x="890.6" y="1878.5" textLength="102.6" lengthAdjust="spacingAndGlyphs">::SetTimeStamp</text>
<rect x="809.1" y="1913.2" width="163.0" height="40.0" fill="#ffffff" stroke="#000000" stroke-width="1.33"/>
<text x="890.6" y="1929.2" textLength="140.0" lengthAdjust="spacingAndGlyphs">ns3::UanHeaderRcRts</text>
<text x="890.6" y="1943.9" textLength="86.9" lengthAdjust="spacingAndGlyphs">::SetFrameNo</text>
<rect x="773.0" y="1979.2" width="235.3" height="25.3" fill="#ffffff" stroke="#000000" stroke-width="1.33"/>
<text x="890.6" y="1995.1" textLength="210.3" lengthAdjust="spacingAndGlyphs">ns3::Mac8Address::Mac8Address</text>
<rect x="787.0" y="2081.2" width="207.1" height="40.0" fill="#ffffff" stroke="#000000" stroke-width="1.33"/>
<text x="890.6" y="2097.3" textLength="182.7" lengthAdjust="spacingAndGlyphs">ns3::RandomVariableStream</text>
<text x="890.6" y="2111.9" textLength="81.1" lengthAdjust="spacingAndGlyphs">::IsAntithetic</text>
<rect x="787.0" y="2146.4" width="207.1" height="40.0" fill="#ffffff" stroke="#000000" stroke-width="1.33"/>
<text x="890.6" y="2162.5" textLength="182.7" lengthAdjust="spacingAndGlyphs">ns3::RandomVariableStream</text>
<text x="890.6" y="2177.1" textLength="39.1" lengthAdjust="spacingAndGlyphs">::Peek</text>
<rect x="794.4" y="2212.8" width="192.4" height="25.3" fill="#ffffff" stroke="#000000" stroke-width="1.33"/>
<text x="890.6" y="2228.7" textLength="170.0" lengthAdjust="spacingAndGlyphs">ns3::RngStream::RandU01</text>
<rect x="803.9" y="2263.2" width="173.5" height="25.3" fill="#ffffff" stroke="#ff0000" stroke-width="1.33"/>
<text x="890.6" y="2279.1" textLength="148.6" lengthAdjust="spacingAndGlyphs">ns3::Time::FromDouble</text>
<rect x="1084.9" y="5.7" width="191.2" height="25.3" fill="#ffffff" stroke="#ff0000" stroke-width="1.33"/>
<text x="1180.5" y="21.6" textLength="165.8" lengthAdjust="spacingAndGlyphs">ns3::ByteTagList::BeginAll</text>
<rect x="1086.4" y="56.4" width="188.2" height="25.3" fill="#ffffff" stroke="#000000" stroke-width="1.33"/>
<text x="1180.5" y="72.4" textLength="164.7" lengthAdjust="spacingAndGlyphs">ns3::TagBuffer::CopyFrom</text>
<rect x="1088.5" y="158.4" width="184.0" height="40.0" fill="#ffffff" stroke="#ff0000" stroke-width="1.33"/>
<text x="1180.5" y="174.5" textLength="161.4" lengthAdjust="spacingAndGlyphs">ns3::ByteTagList::Iterator</text>
<text x="1180.5" y="189.1" textLength="38.4" lengthAdjust="spacingAndGlyphs">::Next</text>
<rect x="1108.8" y="275.1" width="143.3" height="25.3" fill="#ffffff" stroke="#ff0000" stroke-width="1.33"/>
<text x="1180.5" y="291.1" textLength="121.3" lengthAdjust="spacingAndGlyphs">ns3::Buffer::Create</text>
<rect x="1080.3" y="325.8" width="200.4" height="25.3" fill="#ffffff" stroke="#000000" stroke-width="1.33"/>
<text x="1180.5" y="341.8" textLength="177.2" lengthAdjust="spacingAndGlyphs">ns3::Buffer::GetInternalSize</text>
<rect x="1104.9" y="376.2" width="151.2" height="25.3" fill="#ffffff" stroke="#ff0000" stroke-width="1.33"/>
<text x="1180.5" y="392.2" textLength="128.1" lengthAdjust="spacingAndGlyphs">ns3::Buffer::Recycle</text>
<rect x="1101.7" y="427.9" width="157.6" height="40.0" fill="#ffffff" stroke="#ff0000" stroke-width="1.33"/>
<text x="1180.5" y="444.0" textLength="134.0" lengthAdjust="spacingAndGlyphs">ns3::PacketMetadata</text>
<text x="1180.5" y="458.6" textLength="70.4" lengthAdjust="spacingAndGlyphs">::IsStateOk</text>
<rect x="1101.7" y="493.0" width="157.6" height="40.0" fill="#ffffff" stroke="#ff0000" stroke-width="1.33"/>
<text x="1180.5" y="509.1" textLength="134.0" lengthAdjust="spacingAndGlyphs">ns3::PacketMetadata</text>
<text x="1180.5" y="523.7" textLength="97.7" lengthAdjust="spacingAndGlyphs">::DoAddHeader</text>
<rect x="1106.5" y="559.1" width="147.9" height="25.3" fill="#ffffff" stroke="#000000" stroke-width="1.33"/>
<text x="1180.5" y="575.1" textLength="125.3" lengthAdjust="spacingAndGlyphs">ns3::TypeId::GetUid</text>
<rect x="1073.8" y="615.7" width="213.4" height="40.0" fill="#ffffff" stroke="#000000" stroke-width="1.33"/>
<text x="1180.5" y="631.8" textLength="190.3" lengthAdjust="spacingAndGlyphs">ns3::ObjectBase::GetInstance</text>
<text x="1180.5" y="646.4" textLength="41.3" lengthAdjust="spacingAndGlyphs">TypeId</text>
<rect x="1111.6" y="691.1" width="137.8" height="25.3" fill="#ffffff" stroke="#000000" stroke-width="1.33"/>
<text x="1180.5" y="707.0" textLength="115.3" lengthAdjust="spacingAndGlyphs">ns3::Buffer::Begin</text>
<rect x="1097.5" y="909.8" width="166.0" height="25.3" fill="#ffffff" stroke="#000000" stroke-width="1.33"/>
<text x="1180.5" y="925.7" textLength="142.1" lengthAdjust="spacingAndGlyphs">ns3::TypeId::GetName</text>
<rect x="1089.8" y="960.8" width="181.5" height="25.3" fill="#ffffff" stroke="#000000" stroke-width="1.33"/>
<text x="1180.5" y="976.7" textLength="157.2" lengthAdjust="spacingAndGlyphs">ns3::Header::Deserialize</text>
<rect x="1055.7" y="1078.0" width="249.6" height="25.3" fill="#ffffff" stroke="#000000" stroke-width="1.33"/>
<text x="1180.5" y="1094.0" textLength="223.9" lengthAdjust="spacingAndGlyphs">ns3::Mac8Address::IsMatchingType</text>
<rect x="1088.3" y="1473.9" width="184.4" height="25.3" fill="#ffffff" stroke="#ff0000" stroke-width="1.33"/>
<text x="1180.5" y="1489.9" textLength="160.5" lengthAdjust="spacingAndGlyphs">ns3::Simulator::IsExpired</text>
<rect x="1079.7" y="1531.0" width="201.7" height="25.3" fill="#ffffff" stroke="#ff0000" stroke-width="1.33"/>
<text x="1180.5" y="1547.0" textLength="178.2" lengthAdjust="spacingAndGlyphs">ns3::Simulator::DoSchedule</text>
<rect x="1161.2" y="1593.8" width="38.6" height="25.3" fill="#ffffff" stroke="#000000" stroke-width="1.33"/>
<text x="1180.5" y="1609.8" textLength="4.5" lengthAdjust="spacingAndGlyphs">f</text>
<rect x="1362.5" y="129.2" width="184.1" height="40.0" fill="#ffffff" stroke="#000000" stroke-width="1.33"/>
<text x="1454.6" y="145.2" textLength="161.4" lengthAdjust="spacingAndGlyphs">ns3::ByteTagList::Iterator</text>
<text x="1454.6" y="159.8" textLength="62.6" lengthAdjust="spacingAndGlyphs">::HasNext</text>
<rect x="1359.1" y="423.9" width="191.0" height="40.0" fill="#ffffff" stroke="#000000" stroke-width="1.33"/>
<text x="1454.6" y="440.0" textLength="167.5" lengthAdjust="spacingAndGlyphs">ns3::Buffer::CheckInternal</text>
<text x="1454.6" y="454.6" textLength="33.9" lengthAdjust="spacingAndGlyphs">State</text>
<rect x="1356.2" y="909.8" width="196.7" height="25.3" fill="#ffffff" stroke="#ff0000" stroke-width="1.33"/>
<text x="1454.6" y="925.7" textLength="172.1" lengthAdjust="spacingAndGlyphs">ns3::IidManager::GetName</text>
<rect x="1353.5" y="1078.0" width="202.1" height="25.3" fill="#ffffff" stroke="#ff0000" stroke-width="1.33"/>
<text x="1454.6" y="1094.0" textLength="177.4" lengthAdjust="spacingAndGlyphs">ns3::Mac8Address::GetType</text>
<rect x="1352.9" y="1332.0" width="203.3" height="40.0" fill="#ffffff" stroke="#000000" stroke-width="1.33"/>
<text x="1454.6" y="1348.0" textLength="178.2" lengthAdjust="spacingAndGlyphs">ns3::Singleton&lt; IidManager</text>
<text x="1454.6" y="1362.7" textLength="42.2" lengthAdjust="spacingAndGlyphs">&gt;::Get</text>
<rect x="1401.6" y="1565.5" width="105.9" height="25.3" fill="#ffffff" stroke="#ff0000" stroke-width="1.33"/>
<text x="1454.6" y="1581.5" textLength="82.3" lengthAdjust="spacingAndGlyphs">ns3::GetImpl</text>
<rect x="1614.3" y="1448.5" width="177.9" height="25.3" fill="#ffffff" stroke="#ff0000" stroke-width="1.33"/>
<text x="1703.3" y="1464.5" textLength="152.2" lengthAdjust="spacingAndGlyphs">ns3::DefaultTimePrinter</text>
<rect x="1631.8" y="1499.7" width="143.1" height="40.0" fill="#ffffff" stroke="#ff0000" stroke-width="1.33"/>
<text x="1703.3" y="1515.8" textLength="120.0" lengthAdjust="spacingAndGlyphs">ns3::ObjectFactory</text>
<text x="1703.3" y="1530.4" textLength="51.2" lengthAdjust="spacingAndGlyphs">::Create</text>
<rect x="1613.5" y="1616.8" width="179.5" height="25.3" fill="#ffffff" stroke="#ff0000" stroke-width="1.33"/>
<text x="1703.3" y="1632.7" textLength="154.3" lengthAdjust="spacingAndGlyphs">ns3::DefaultNodePrinter</text>
<rect x="1623.9" y="1667.4" width="158.8" height="25.3" fill="#ffffff" stroke="#000000" stroke-width="1.33"/>
<text x="1703.3" y="1683.4" textLength="136.3" lengthAdjust="spacingAndGlyphs">ns3::StringValue::Get</text>
<rect x="1641.8" y="1718.2" width="123.1" height="25.3" fill="#ffffff" stroke="#000000" stroke-width="1.33"/>
<text x="1703.3" y="1734.1" textLength="99.3" lengthAdjust="spacingAndGlyphs">ns3::GetPointer</text>
<rect x="1603.6" y="1768.8" width="199.3" height="25.3" fill="#ffffff" stroke="#000000" stroke-width="1.33"/>
<text x="1703.3" y="1784.7" textLength="174.1" lengthAdjust="spacingAndGlyphs">ns3::GlobalValue::GetValue</text>
<rect x="1850.7" y="1507.1" width="153.6" height="25.3" fill="#ffffff" stroke="#000000" stroke-width="1.33"/>
<text x="1927.5" y="1523.1" textLength="129.6" lengthAdjust="spacingAndGlyphs">ns3::Simulator::Now</text>
<rect x="2051.4" y="1507.1" width="183.5" height="25.3" fill="#ffffff" stroke="#000000" stroke-width="1.33"/>
<text x="2143.2" y="1523.1" textLength="157.8" lengthAdjust="spacingAndGlyphs">ns3::SimulatorImpl::Now</text>
</g>
</svg>
</body></html>
